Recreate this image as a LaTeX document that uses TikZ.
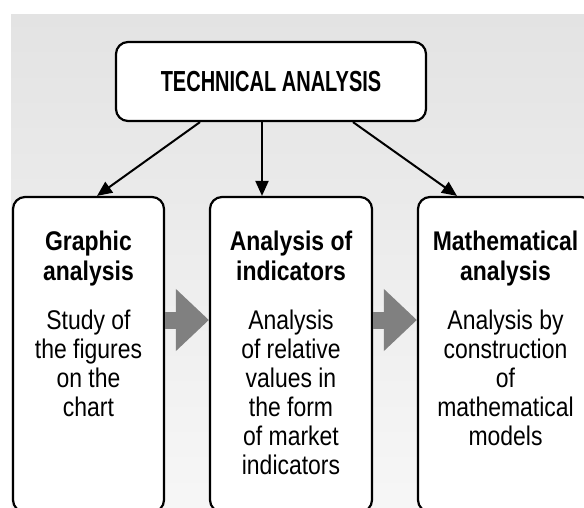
\documentclass[tikz,border=0pt]{standalone}
\usepackage{fontspec}
\setmainfont{Liberation Sans}
\newfontfamily\titlefont{Liberation Sans}[FakeStretch=0.69]
\newfontfamily\narrowfont{Liberation Sans}[FakeStretch=0.85]
\usetikzlibrary{arrows.meta,positioning,calc}

\definecolor{bgtop}{HTML}{E3E3E3}
\definecolor{bgbottom}{HTML}{F7F7F7}
\definecolor{blockgray}{HTML}{808080}

\tikzset{
  box/.style={draw, line width=2.2pt, rounded corners=12pt, fill=white, inner sep=0pt},
  headtext/.style={align=center, inner sep=0pt, font=\narrowfont\bfseries\fontsize{27}{30}\selectfont},
  bodytext/.style={align=center, inner sep=0pt, font=\narrowfont\fontsize{27}{29}\selectfont},
  conn/.style={line width=2pt, -{Triangle[length=15pt,width=13pt]}},
  blockarrow/.style={blockgray, line width=17pt, -{Triangle[length=33pt,width=60pt]}}
}

\begin{document}
\begin{tikzpicture}[x=1pt,y=-1pt]
\useasboundingbox (0,0) rectangle (584,507);
\clip (0,0) rectangle (584,507);
\shade[top color=bgtop, bottom color=bgbottom] (11,14) rectangle (600,520);

% top box
\node[box, minimum width=310pt, minimum height=79pt, font=\titlefont\bfseries\fontsize{29}{30}\selectfont] (tech) at (271,81.5) {TECHNICAL ANALYSIS};

% three branches
\node[box, minimum width=151pt, minimum height=315pt] (graphic) at (88.5,354.5) {};
\node[box, minimum width=162pt, minimum height=315pt] (indicators) at (291,354.5) {};
\node[box, minimum width=175pt, minimum height=315pt] (maths) at (505.5,354.5) {};

\node[headtext, below=35pt of graphic.north] (graphichead) {Graphic\\analysis};
\node[bodytext, below=114pt of graphic.north] (graphicbody) {Study of\\the figures\\on the\\chart};

\node[headtext, below=35pt of indicators.north] (indicatorshead) {Analysis of\\indicators};
\node[bodytext, below=114pt of indicators.north] (indicatorsbody) {Analysis\\of relative\\values in\\the form\\of market\\indicators};

\node[headtext, below=35pt of maths.north] (mathshead) {Mathematical\\analysis};
\node[bodytext, below=114pt of maths.north] (mathsbody) {Analysis by\\construction\\of\\mathematical\\models};

\draw[conn] ([xshift=-71pt]tech.south) -- ([xshift=8.5pt]graphic.north);
\draw[conn] ([xshift=-9pt]tech.south) -- ([xshift=-29pt]indicators.north);
\draw[conn] ([xshift=82pt]tech.south) -- ([xshift=-48.5pt]maths.north);

\draw[blockarrow] ([yshift=34.5pt]graphic.east) -- ([yshift=34.5pt]indicators.west);
\draw[blockarrow] ([yshift=34.5pt]indicators.east) -- ([yshift=34.5pt]maths.west);
\end{tikzpicture}
\end{document}
